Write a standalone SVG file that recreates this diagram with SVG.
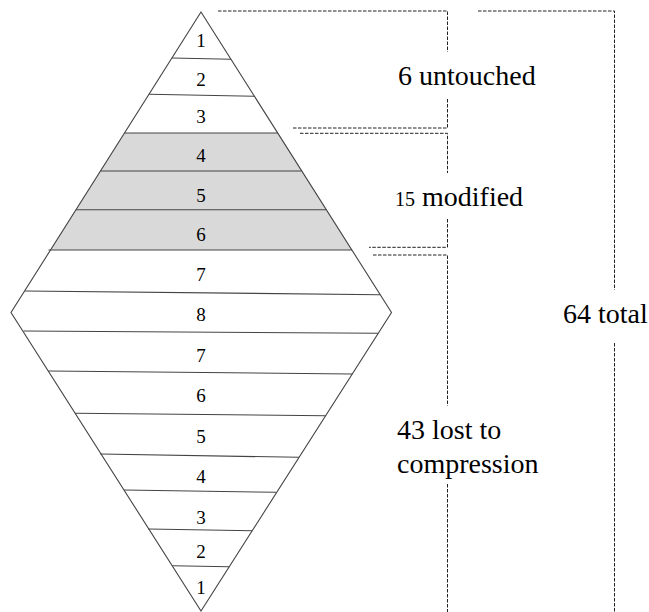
<svg xmlns="http://www.w3.org/2000/svg" width="649" height="612" viewBox="0 0 649 612">
<style>
  .edge{fill:none;stroke:#444;stroke-width:1.1}
  .tier{stroke:#444;stroke-width:1.1}
  .num{font-size:19px;fill:#000;text-anchor:middle}
  .lbl{font-size:28px;fill:#000}
  .dash{fill:none;stroke:#222;stroke-width:1;stroke-dasharray:3.5 1.5}
</style>
<rect width="649" height="612" fill="#fff"/>
<g id="diamond">
  <polygon points="124.5,133 277.7,133 352,250 50.5,250" fill="#d9d9d9"/>
  <polygon class="edge" points="201,12 391.5,312.5 201,611 11,312.5"/>
</g>
<g id="tiers">
  <line class="tier" x1="171.9" y1="58" x2="231" y2="59.3"/>
  <line class="tier" x1="149" y1="94.3" x2="254.4" y2="96.3"/>
  <line class="tier" x1="124.5" y1="133" x2="277.7" y2="133"/>
  <line class="tier" x1="100.5" y1="171" x2="301.5" y2="171"/>
  <line class="tier" x1="76" y1="209.7" x2="326" y2="209.7"/>
  <line class="tier" x1="48.5" y1="250" x2="352" y2="250"/>
  <line class="tier" x1="25" y1="291" x2="380" y2="294.7"/>
  <line class="tier" x1="23.5" y1="331" x2="378" y2="333.3"/>
  <line class="tier" x1="48.3" y1="371" x2="352.3" y2="374"/>
  <line class="tier" x1="75" y1="413.3" x2="325.7" y2="415.7"/>
  <line class="tier" x1="100" y1="454" x2="299" y2="457.3"/>
  <line class="tier" x1="124" y1="490" x2="276" y2="492.3"/>
  <line class="tier" x1="148.3" y1="529" x2="252.3" y2="530.7"/>
  <line class="tier" x1="172.3" y1="565.7" x2="229.3" y2="566.7"/>
</g>
<g id="tier-labels" font-family="Liberation Serif, DejaVu Serif, serif">
  <text class="num" x="201" y="47">1</text>
  <text class="num" x="201" y="86">2</text>
  <text class="num" x="201" y="123">3</text>
  <text class="num" x="201" y="162">4</text>
  <text class="num" x="201" y="202">5</text>
  <text class="num" x="201" y="241">6</text>
  <text class="num" x="201" y="281">7</text>
  <text class="num" x="201" y="321">8</text>
  <text class="num" x="201" y="362">7</text>
  <text class="num" x="201" y="402">6</text>
  <text class="num" x="201" y="443">5</text>
  <text class="num" x="201" y="483">4</text>
  <text class="num" x="201" y="524">3</text>
  <text class="num" x="201" y="558">2</text>
  <text class="num" x="201" y="594">1</text>
</g>
<g id="connectors">
  <polyline class="dash" points="218,11 447.5,11 447.5,52"/>
  <polyline class="dash" points="447.5,99 447.5,128 292,128"/>
  <polyline class="dash" points="300,133.3 447.5,133.3 447.5,173"/>
  <polyline class="dash" points="447.5,219 447.5,247.3 369,247.3"/>
  <polyline class="dash" points="373,255 447.5,255 447.5,406"/>
  <polyline class="dash" points="447.5,484 447.5,612"/>
  <polyline class="dash" points="478,11 614.5,11 614.5,290"/>
  <polyline class="dash" points="614.5,343 614.5,612"/>
</g>
<g id="untouched" font-family="Liberation Serif, DejaVu Serif, serif">
  <text class="lbl" x="398" y="85">6 untouched</text>
</g>
<g id="modified" font-family="Liberation Serif, DejaVu Serif, serif">
  <text class="lbl" x="395" y="206"><tspan font-size="20">15</tspan> modified</text>
</g>
<g id="lost" font-family="Liberation Serif, DejaVu Serif, serif">
  <text class="lbl" x="397" y="439">43 lost to</text>
  <text class="lbl" x="397" y="472.5">compression</text>
</g>
<g id="total" font-family="Liberation Serif, DejaVu Serif, serif">
  <text class="lbl" x="563" y="322.5">64 total</text>
</g>
</svg>
